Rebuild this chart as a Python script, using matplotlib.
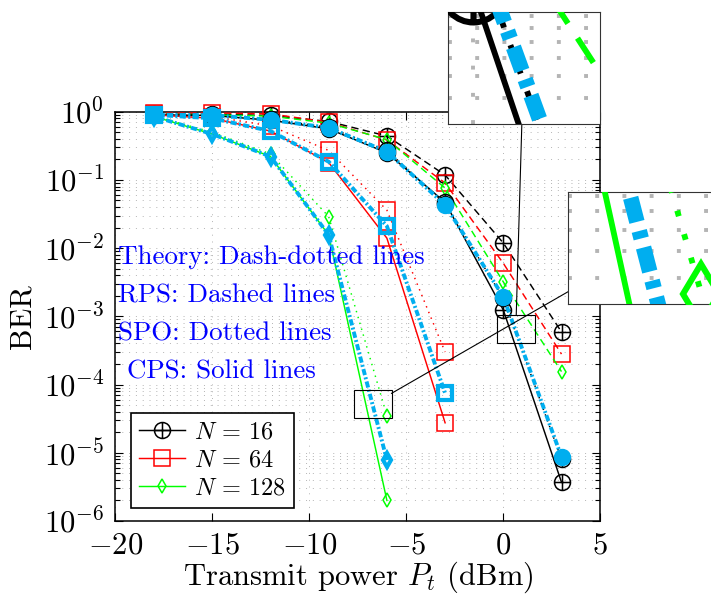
# -*- coding: utf-8 -*-
# =============================================================================
# BER vs transmit power, with two magnified "spy" insets
# =============================================================================
import numpy as np
import matplotlib
matplotlib.use('Agg')
import matplotlib.pyplot as plt
from matplotlib.path import Path
from matplotlib.lines import Line2D
from matplotlib.patches import Rectangle

plt.rcParams['font.family'] = 'serif'
plt.rcParams['font.serif'] = ['cmr10']
plt.rcParams['mathtext.fontset'] = 'cm'
plt.rcParams['axes.formatter.use_mathtext'] = True



# =============================================================================
# DATA
# =============================================================================
p16  = [-18, -15, -12, -9, -6, -3, 0, 3]
p64  = [-18, -15, -12, -9, -6, -3]
p128 = [-18, -15, -12, -9, -6]
pRps = [-18, -15, -12, -9, -6, -3, 0, 3]

# N = 16
ber16Theory = [0.90, 0.89, 0.76, 0.58, 0.26, 0.043, 1.94e-3, 8.7e-6]
ber16Rps    = [0.93, 0.92, 0.88, 0.72, 0.44, 0.118, 1.19e-2, 5.9e-4]
ber16Spo    = [0.90, 0.89, 0.77, 0.59, 0.27, 0.045, 1.85e-3, 8.0e-6]
ber16Cps    = [0.90, 0.88, 0.75, 0.56, 0.25, 0.047, 1.24e-3, 3.7e-6]

# N = 64
ber64Theory = [0.90, 0.80, 0.52, 0.185, 0.021, 7.5e-5]
ber64Rps    = [0.95, 0.96, 0.93, 0.70, 0.385, 0.090, 6.0e-3, 2.8e-4]
ber64Spo    = [0.92, 0.85, 0.62, 0.27, 0.036, 3.0e-4]
ber64Cps    = [0.90, 0.80, 0.52, 0.18, 0.014, 2.75e-5]

# N = 128
ber128Theory = [0.85, 0.47, 0.22, 0.0156, 7.8e-6]
ber128Rps    = [0.92, 0.90, 0.86, 0.68, 0.39, 0.076, 3.2e-3, 1.55e-4]
ber128Spo    = [0.86, 0.50, 0.24, 0.029, 3.5e-5]
ber128Cps    = [0.85, 0.47, 0.22, 0.0156, 2.0e-6]

legendLabels = [r'$N\,=\,16$', r'$N\,=\,64$', r'$N\,=\,128$']
notes = ['Theory: Dash-dotted lines', 'RPS: Dashed lines',
         'SPO: Dotted lines', ' CPS: Solid lines']



# =============================================================================
# STYLES
# =============================================================================
CYAN  = '#00AEEF'
GREEN = '#00FF00'
RED   = '#FF0000'
BLACK = '#000000'

# circle with a plus inside (pgfplots 'oplus')
oplus = Path.make_compound_path(
  Path.unit_circle(),
  Path([[-1, 0], [1, 0]], [Path.MOVETO, Path.LINETO]),
  Path([[0, -1], [0, 1]], [Path.MOVETO, Path.LINETO]))

lsSolid  = '-'
lsDashed = (0, (5.0, 3.0))
lsDotted = (0, (1.0, 3.2))
lsTheory = (0, (1.6, 0.6, 0.5, 0.6))

LW = 1.05

# (x, y, color, marker, ms, mew, mfc, ls, lw, zorder)
series = [
  (pRps, ber16Rps,  BLACK, oplus, 11.5, 1.1, 'none', lsDashed, LW, 3),
  (pRps, ber64Rps,  RED,   's',   11.0, 1.1, 'none', lsDashed, LW, 3),
  (pRps, ber128Rps, GREEN, 'd',    7.6, 1.1, 'none', lsDashed, LW, 3),
  (p16,  ber16Spo,  BLACK, oplus, 11.5, 1.1, 'none', lsDotted, LW, 4),
  (p64,  ber64Spo,  RED,   's',   11.0, 1.1, 'none', lsDotted, LW, 4),
  (p128, ber128Spo, GREEN, 'd',    7.6, 1.1, 'none', lsDotted, LW, 4),
  (p16,  ber16Cps,  BLACK, oplus, 11.5, 1.1, 'none', lsSolid,  LW, 5),
  (p64,  ber64Cps,  RED,   's',   11.0, 1.1, 'none', lsSolid,  LW, 5),
  (p128, ber128Cps, GREEN, 'd',    7.6, 1.1, 'none', lsSolid,  LW, 5),
  (p16,  ber16Theory,  CYAN, oplus, 10.5, 2.0, CYAN,   lsTheory, 2.8, 6),
  (p64,  ber64Theory,  CYAN, 's',    9.5, 3.0, 'none', lsTheory, 2.8, 6),
  (p128, ber128Theory, CYAN, 'd',    7.5, 3.0, 'none', lsTheory, 2.8, 6),
]

gridStyle = dict(ls=(0, (1, 6)), color='#b4b4b4')


def drawCurves(ax, k=1.0, clip=True):
  for x, y, col, mk, ms, mew, mfc, ls, lw, z in series:
    ax.plot(x, y, color=col, marker=mk, ms=ms * k, mew=mew * k, mfc=mfc,
            ls=ls, lw=lw * k, zorder=z, clip_on=clip)



# =============================================================================
# MAIN AXES
# =============================================================================
W, H = 711, 602
fig = plt.figure(figsize=(W / 100, H / 100), dpi=100)

axL, axR, axT, axB = 115.3, 600.3, 111.7, 521.0
ax = fig.add_axes([axL / W, (H - axB) / H, (axR - axL) / W, (axB - axT) / H])
ax.set_yscale('log')
ax.set_xticks([-20, -15, -10, -5, 0, 5])
ax.set_xlim(-20, 5)
ax.set_ylim(1e-6, 1)
ax.grid(True, which='major', lw=0.7, **gridStyle)
ax.grid(True, which='minor', axis='y', lw=0.7, **gridStyle)
ax.set_axisbelow(True)

drawCurves(ax, 1.0, clip=False)

ax.tick_params(which='both', direction='in', top=True, right=True,
               labelsize=22, width=0.8)
ax.tick_params(which='major', length=6, pad=8)
ax.tick_params(which='minor', length=3.5)
for s in ax.spines.values():
  s.set_linewidth(1.1)

ax.set_xlabel('Transmit power $P_t$ (dBm)', fontsize=22, labelpad=0)
ax.set_ylabel('BER', fontsize=22, labelpad=5)

# blue notes
noteY = [0.628, 0.533, 0.440, 0.349]
for txt, yy in zip(notes, noteY):
  ax.text(0.0056, yy, txt, transform=ax.transAxes, color='blue',
          fontsize=19.4, va='baseline', ha='left', zorder=10)

# legend
handles = [
  Line2D([], [], color=BLACK, marker=oplus, ms=11.5, mfc='none', lw=LW, mew=1.1),
  Line2D([], [], color=RED, marker='s', ms=11.0, mfc='none', lw=LW, mew=1.1),
  Line2D([], [], color=GREEN, marker='d', ms=7.6, mfc='none', lw=LW, mew=1.1),
]
leg = ax.legend(handles, legendLabels, loc='lower left',
                bbox_to_anchor=(0.0318, 0.031), borderaxespad=0,
                fontsize=17.5, handlelength=1.9, handletextpad=0.35,
                labelspacing=0.25, borderpad=0.35, fancybox=False,
                framealpha=1, edgecolor='black')
leg.get_frame().set_linewidth(1.2)
leg.set_zorder(20)



# =============================================================================
# SPY INSETS
# =============================================================================
MAG = 4
insW, insH = 152, 112


def boxExit(c, hw, hh, d):
  t = min(hw / abs(d[0]) if d[0] else np.inf, hh / abs(d[1]) if d[1] else np.inf)
  return c + t * d


def spy(xc, yc, insCx, insCy, xticks):
  # rectangle on the main axes, centred on (xc, yc)
  cx, cy = ax.transData.transform((xc, yc))
  rw, rh = insW / MAG, insH / MAG
  x0, y0 = ax.transData.inverted().transform((cx - rw / 2, cy - rh / 2))
  x1, y1 = ax.transData.inverted().transform((cx + rw / 2, cy + rh / 2))
  ax.add_patch(Rectangle((x0, y0), x1 - x0, y1 - y0, fill=False,
                         ec='black', lw=0.8, zorder=15))

  # magnified axes
  icy = H - insCy
  ins = fig.add_axes([(insCx - insW / 2) / W, (icy - insH / 2) / H,
                      insW / W, insH / H])
  ins.set_zorder(5)
  ins.set_yscale('log')
  ins.set_xticks(xticks)
  ins.set_xlim(x0, x1)
  ins.set_ylim(y0, y1)
  ins.grid(True, which='major', lw=0.7 * MAG, **gridStyle)
  ins.grid(True, which='minor', axis='y', lw=0.7 * MAG, **gridStyle)
  ins.set_axisbelow(True)
  drawCurves(ins, MAG, clip=True)
  ins.set_xlim(x0, x1)
  ins.set_ylim(y0, y1)
  ins.tick_params(which='both', length=0, labelbottom=False, labelleft=False)
  ins.yaxis.set_minor_formatter(plt.NullFormatter())
  for s in ins.spines.values():
    s.set_linewidth(0.8)
    s.set_color('#333333')

  # connecting line between the two boxes
  p1 = np.array([cx, cy])
  p2 = np.array([insCx, icy])
  d = p2 - p1
  a = boxExit(p1, rw / 2, rh / 2, d)
  b = boxExit(p2, insW / 2, insH / 2, -d)
  fig.add_artist(Line2D([a[0] / W, b[0] / W], [a[1] / H, b[1] / H],
                        transform=fig.transFigure, color='black', lw=0.8,
                        zorder=4))


spy(0.645, 10 ** -3.19, 523.5, 67.5, [0])
spy(-6.74, 10 ** -4.289, 644.0, 248.0, [])

fig.savefig('out.png', dpi=100)
